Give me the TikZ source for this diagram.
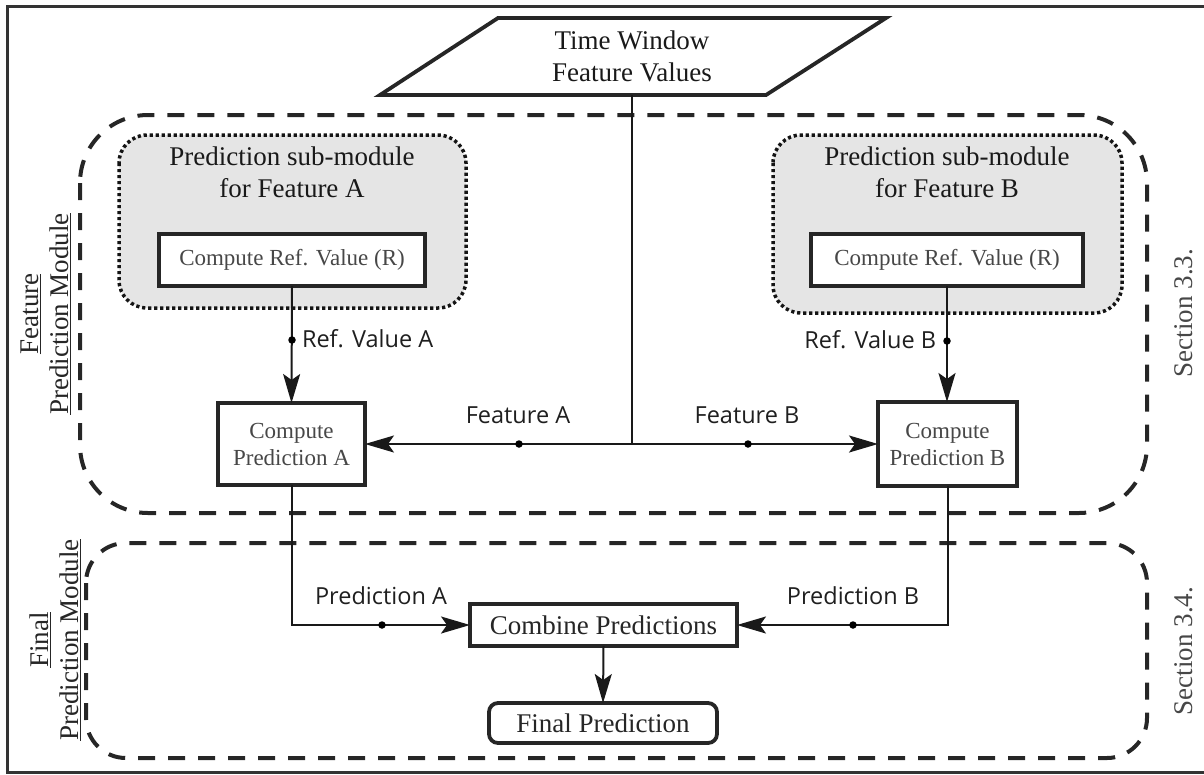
\documentclass[tikz,border=0pt]{standalone}
\usepackage{fontspec}
\setmainfont{Liberation Serif}
\newfontfamily\labelfont{Open Sans}
\usetikzlibrary{arrows.meta,calc}

\tikzset{
  every node/.style={inner sep=0pt, outer sep=0pt},
  frame/.style={draw=black!80, line width=3pt},
  box/.style={draw=black!85, line width=3.8pt, fill=white, align=center,
    font=\fontsize{23}{27}\selectfont, text=black!72},
  bigbox/.style={draw=black!85, line width=3.8pt, fill=white, align=center,
    font=\fontsize{27}{32}\selectfont, text=black!85},
  subgroup/.style={draw=black!92, line width=3.5pt, dash pattern=on 3.2pt off 2.8pt,
    fill=black!10, rounded corners=28pt},
  module/.style={draw=black!85, line width=4pt, dash pattern=on 17pt off 13pt,
    rounded corners=#1},
  conn/.style={draw=black!90, line width=2pt},
  arr/.style={conn, -{Stealth[length=29pt,width=17pt,inset=6pt]}},
  dot/.style={circle, fill=black, minimum size=7.5pt, inner sep=0pt},
  lbl/.style={font=\labelfont\fontsize{23.5}{28}\selectfont, text=black!88},
  big/.style={font=\fontsize{27}{32}\selectfont, align=center, text=black!90},
  side/.style={font=\fontsize{27}{30}\selectfont, align=center, rotate=90},
}

\begin{document}
\begin{tikzpicture}[x=1pt,y=-1pt]
\useasboundingbox (0,0) rectangle (1204,774);

% outer frame
\draw[frame] (1215,6) -| (7,772) -- (1215,772);

% module outlines
\draw[module=68pt] (80,115) rectangle (1147,513);
\draw[module=40pt] (86,543) rectangle (1147,758);

% input parallelogram
\node[big, minimum height=77pt, minimum width=270pt] (tw) at (632,56.5)
  {Time Window\\Feature Values};
\draw[draw=black!85, line width=3.8pt, line join=miter]
  ($(tw.north)+(-134,0)$) -- ($(tw.north)+(254,0)$)
  -- ($(tw.south)+(134,0)$) -- ($(tw.south)+(-252,0)$) -- cycle;

% prediction sub-modules
\draw[subgroup] (119,135) rectangle (466,308);
\draw[subgroup] (773,135) rectangle (1122,313);
\node[big] (tA) at (292,172) {Prediction sub-module\\for Feature A};
\node[big] (tB) at (947,172) {Prediction sub-module\\for Feature B};

\node[box, minimum width=266pt, minimum height=52pt] (refA) at (292,260)
  {Compute Ref. Value (R)};
\node[box, minimum width=272pt, minimum height=52pt] (refB) at (947,260)
  {Compute Ref. Value (R)};

% prediction boxes
\node[box, minimum width=147pt, minimum height=82pt] (cpA) at (291.5,444)
  {Compute\\Prediction A};
\node[box, minimum width=139pt, minimum height=84pt] (cpB) at (947.5,444)
  {Compute\\Prediction B};

\node[bigbox, minimum width=267pt, minimum height=42pt] (comb) at (603.5,625)
  {Combine Predictions};
\node[bigbox, rounded corners=9pt, minimum width=228pt, minimum height=40pt]
  (final) at (603,723) {Final Prediction};

% reference values
\draw[arr] (refA.south) -- (cpA.north);
\draw[arr] (refB.south) -- (refB.south |- cpB.north);
\node[dot] (dRA) at (292,340) {};
\node[dot] (dRB) at (947,341) {};
\node[lbl, anchor=west] (lRA) at (302,339) {Ref. Value A};
\node[lbl, anchor=east] (lRB) at (936,340) {Ref. Value B};

% feature values
\coordinate (jn) at (632,444);
\draw[conn] (tw.south) -- (jn);
\draw[arr] (jn) -- (cpA.east);
\draw[arr] (jn) -- (cpB.west);
\node[dot] (dFA) at (519,444) {};
\node[dot] (dFB) at (748,444) {};
\node[lbl, anchor=base] (lFA) at (518,423) {Feature A};
\node[lbl, anchor=base] (lFB) at (747,423) {Feature B};

% predictions
\draw[arr] (cpA.south) |- (comb.west);
\draw[arr] (cpB.south) |- (comb.east);
\node[dot] (dPA) at (382,625) {};
\node[dot] (dPB) at (853,625) {};
\node[lbl, anchor=base] (lPA) at (381,604) {Prediction A};
\node[lbl, anchor=base] (lPB) at (853,604) {Prediction B};

\draw[arr] (comb.south) -- (final.north);

% side captions
\node[side, text=black!85] (capF) at (46,314)
  {\underline{Feature}\\\underline{Prediction Module}};
\node[side, text=black!85] (capP) at (55,640)
  {\underline{Final}\\\underline{Prediction Module}};
\node[side, text=black!72] (s33) at (1184,313) {Section 3.3.};
\node[side, text=black!72] (s34) at (1184,651) {Section 3.4.};
\end{tikzpicture}
\end{document}
